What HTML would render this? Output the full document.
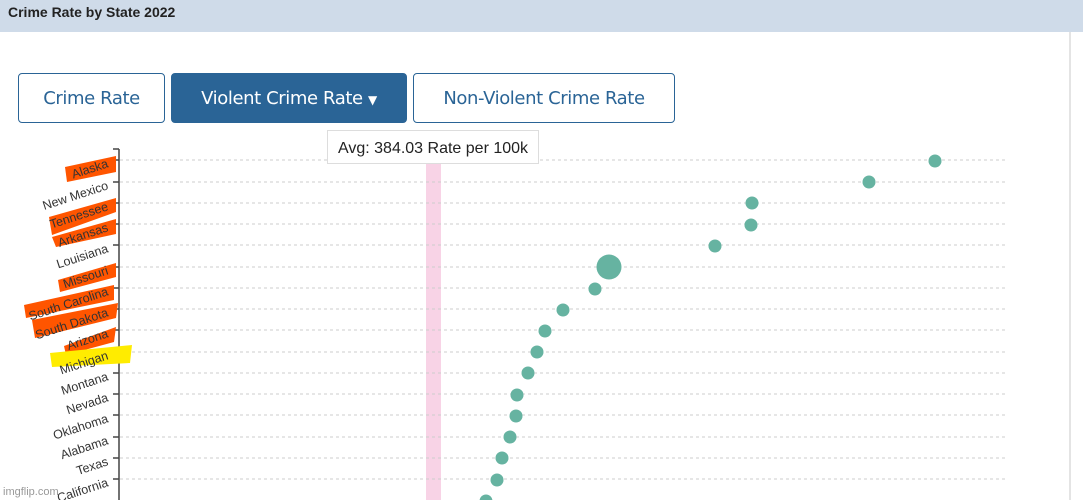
<!DOCTYPE html>
<html><head><style>
body{margin:0;width:1083px;height:500px;overflow:hidden;background:#fff;font-family:"Liberation Sans",sans-serif}
.hdr{position:absolute;left:0;top:0;width:1083px;height:32px;background:#cfdbe9;font-weight:bold;font-size:14px;color:#222;line-height:24px;padding-left:8px;box-sizing:border-box}
.btn{position:absolute;top:73px;height:50px;border:1px solid #2a6496;border-radius:4px;box-sizing:border-box;color:#2a6496;font-size:18px;line-height:50px;text-align:center;font-family:"DejaVu Sans","Liberation Sans",sans-serif;letter-spacing:-0.4px}
.tip{position:absolute;left:327px;top:130px;width:212px;height:34px;border:1px solid #ddd;background:#fff;font-size:16px;line-height:36px;text-align:center;color:#222;box-sizing:border-box}
</style></head><body>
<div class="hdr">Crime Rate by State 2022</div>
<div style="position:absolute;left:1069px;top:32px;width:2px;height:468px;background:#e4e4e4"></div>
<div class="btn" style="left:18px;width:147px">Crime Rate</div>
<div class="btn" style="left:171px;width:236px;background:#2a6496;color:#fff">Violent Crime Rate <span style="font-size:12px">▼</span></div>
<div class="btn" style="left:413px;width:262px">Non-Violent Crime Rate</div>
<svg style="position:absolute;left:0;top:0" width="1083" height="500">
<rect x="426" y="160" width="15" height="340" fill="#f8d3e6"/>
<g stroke="#ccc" stroke-dasharray="3,3" stroke-width="1">
<line x1="120" x2="1005" y1="160" y2="160"/><line x1="120" x2="1005" y1="182" y2="182"/><line x1="120" x2="1005" y1="203" y2="203"/><line x1="120" x2="1005" y1="224" y2="224"/><line x1="120" x2="1005" y1="245" y2="245"/><line x1="120" x2="1005" y1="267" y2="267"/><line x1="120" x2="1005" y1="288" y2="288"/><line x1="120" x2="1005" y1="309" y2="309"/><line x1="120" x2="1005" y1="330" y2="330"/><line x1="120" x2="1005" y1="352" y2="352"/><line x1="120" x2="1005" y1="373" y2="373"/><line x1="120" x2="1005" y1="394" y2="394"/><line x1="120" x2="1005" y1="415" y2="415"/><line x1="120" x2="1005" y1="437" y2="437"/><line x1="120" x2="1005" y1="458" y2="458"/><line x1="120" x2="1005" y1="479" y2="479"/>
</g>
<g stroke="#444" stroke-width="1.5">
<line x1="119" y1="149" x2="119" y2="500"/><line x1="113" y1="149" x2="119" y2="149"/>
<line x1="113" x2="119" y1="160" y2="160"/><line x1="113" x2="119" y1="182" y2="182"/><line x1="113" x2="119" y1="203" y2="203"/><line x1="113" x2="119" y1="224" y2="224"/><line x1="113" x2="119" y1="245" y2="245"/><line x1="113" x2="119" y1="267" y2="267"/><line x1="113" x2="119" y1="288" y2="288"/><line x1="113" x2="119" y1="309" y2="309"/><line x1="113" x2="119" y1="330" y2="330"/><line x1="113" x2="119" y1="352" y2="352"/><line x1="113" x2="119" y1="373" y2="373"/><line x1="113" x2="119" y1="394" y2="394"/><line x1="113" x2="119" y1="415" y2="415"/><line x1="113" x2="119" y1="437" y2="437"/><line x1="113" x2="119" y1="458" y2="458"/><line x1="113" x2="119" y1="479" y2="479"/>
</g>
<g fill="#ff5500">
<polygon points="65,167 116,156 116,172 67,182"/>
<polygon points="49,217 116,198 116,212 52,235"/>
<polygon points="52,237 116,219 116,234 56,247"/>
<polygon points="58,280 116,263 116,277 60,292"/>
<polygon points="24,305 114,285 114,300 26,318"/>
<polygon points="32,320 118,303 116,318 35,338"/>
<polygon points="64,346 116,327 114,342 66,355"/>
</g>
<polygon points="50,353 132,345 130,363 52,367" fill="#ffec00"/>
<g font-size="12.5" fill="#333" text-anchor="end">
<text transform="translate(109,167) rotate(-18)">Alaska</text>
<text transform="translate(109,189) rotate(-18)">New Mexico</text>
<text transform="translate(109,210) rotate(-18)">Tennessee</text>
<text transform="translate(109,231) rotate(-18)">Arkansas</text>
<text transform="translate(109,252) rotate(-18)">Louisiana</text>
<text transform="translate(109,274) rotate(-18)">Missouri</text>
<text transform="translate(109,295) rotate(-18)">South Carolina</text>
<text transform="translate(109,316) rotate(-18)">South Dakota</text>
<text transform="translate(109,337) rotate(-18)">Arizona</text>
<text transform="translate(109,359) rotate(-18)">Michigan</text>
<text transform="translate(109,380) rotate(-18)">Montana</text>
<text transform="translate(109,401) rotate(-18)">Nevada</text>
<text transform="translate(109,422) rotate(-18)">Oklahoma</text>
<text transform="translate(109,444) rotate(-18)">Alabama</text>
<text transform="translate(109,465) rotate(-18)">Texas</text>
<text transform="translate(109,486) rotate(-18)">California</text>
</g>
<text x="3" y="495" font-size="11" fill="#999">imgflip.com</text>
<g fill="#66b3a1">
<circle cx="935" cy="161" r="6.5"/><circle cx="869" cy="182" r="6.5"/><circle cx="752" cy="203" r="6.5"/><circle cx="751" cy="225" r="6.5"/><circle cx="715" cy="246" r="6.5"/><circle cx="609" cy="267" r="12.5"/><circle cx="595" cy="289" r="6.5"/><circle cx="563" cy="310" r="6.5"/><circle cx="545" cy="331" r="6.5"/><circle cx="537" cy="352" r="6.5"/><circle cx="528" cy="373" r="6.5"/><circle cx="517" cy="395" r="6.5"/><circle cx="516" cy="416" r="6.5"/><circle cx="510" cy="437" r="6.5"/><circle cx="502" cy="458" r="6.5"/><circle cx="497" cy="480" r="6.5"/><circle cx="486" cy="501" r="6.5"/>
</g>
</svg>
<div class="tip">Avg: 384.03 Rate per 100k</div>
</body></html>
